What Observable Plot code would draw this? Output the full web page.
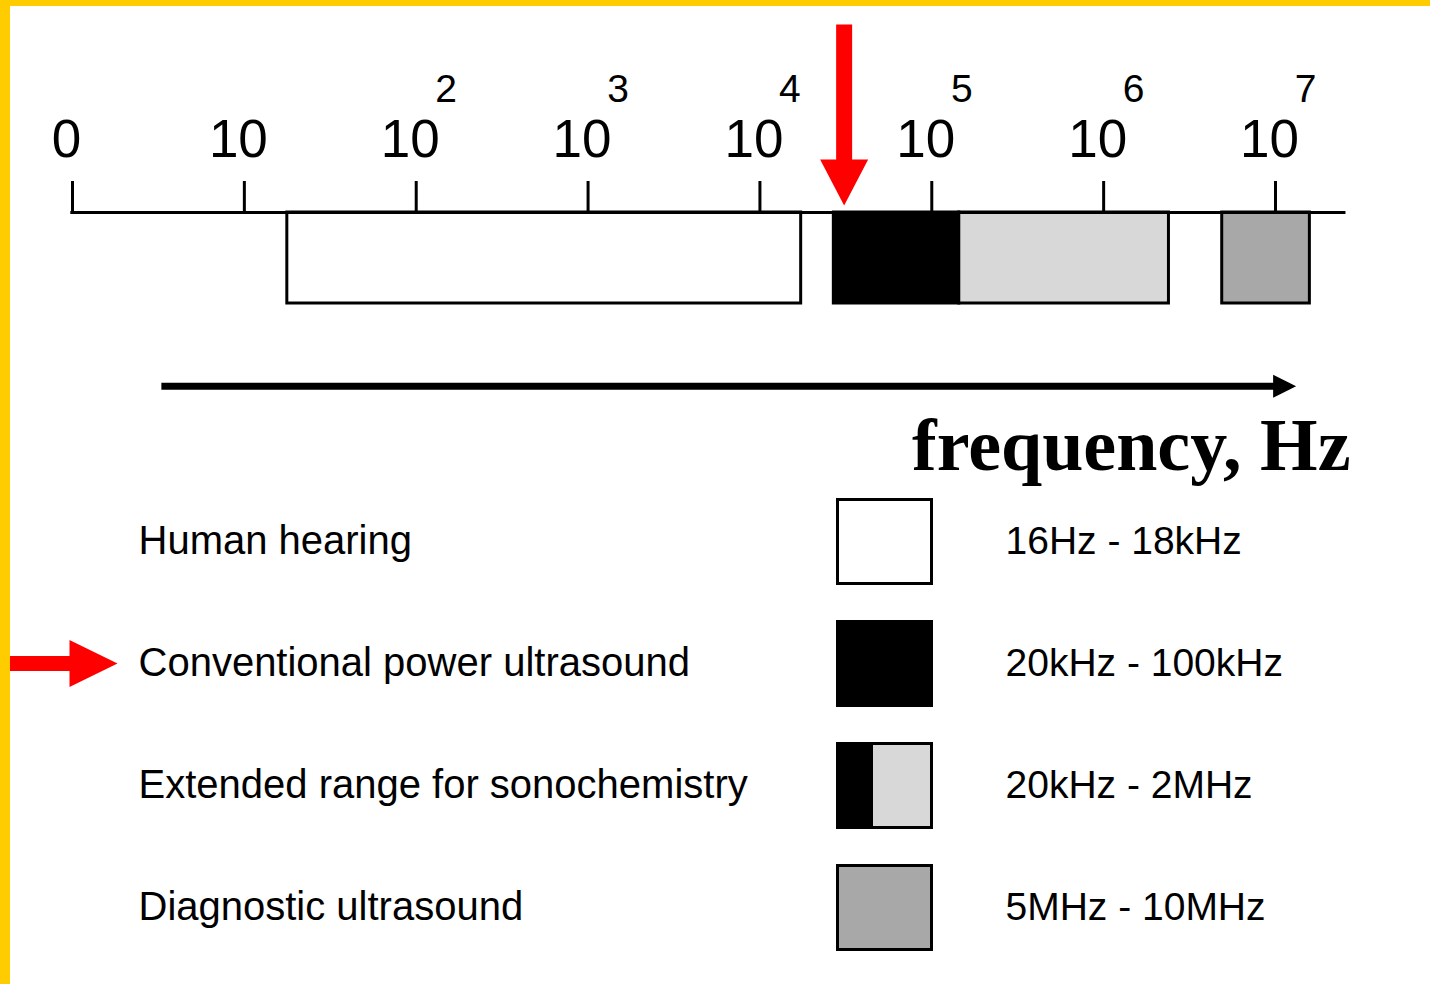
<!DOCTYPE html>
<html><head><meta charset="utf-8">
<script src="https://cdn.jsdelivr.net/npm/d3@7"></script>
<script src="https://cdn.jsdelivr.net/npm/@observablehq/plot@0.6"></script>
<style>
html,body{margin:0;padding:0;background:#fff;}
#page{position:relative;width:1430px;height:984px;overflow:hidden;background:#fff;}
#page svg{display:block;}
.border-top{position:absolute;left:0;top:0;width:1430px;height:6px;background:#FFCC00;}
.border-left{position:absolute;left:0;top:0;width:10px;height:984px;background:#FFCC00;}
</style></head>
<body><div id="page"><div id="top"></div><div id="legend"></div><div class="border-top"></div><div class="border-left"></div></div>
<script>
// ---- data (frequency positions in decades: value v means 10^v Hz; "0" tick at v = 0) ----
const decades = [0, 1, 2, 3, 4, 5, 6, 7];
const tickBase = ["0", "10", "10", "10", "10", "10", "10", "10"];
const tickExp = ["", "", "2", "3", "4", "5", "6", "7"];

const bandKinds = ["hearing", "conventional", "extended", "diagnostic"];
const bandFrom = [1.25, 4.43, 5.16, 6.69];
const bandTo = [4.24, 5.16, 6.38, 7.20];

const legendLabels = ["Human hearing", "Conventional power ultrasound", "Extended range for sonochemistry", "Diagnostic ultrasound"];
const legendRanges = ["16Hz - 18kHz", "20kHz - 100kHz", "20kHz - 2MHz", "5MHz - 10MHz"];

const markerDecade = 4.49;                 // red arrow on the scale
const highlighted = "Conventional power ultrasound";
const axisSpan = [-0.01, 7.41];            // extent of the scale line
const freqArrowSpan = [0.52, 7.12];        // frequency arrow (start, tip)
const axisTitle = "frequency, Hz";

// ---- tables built from the arrays ----
const bands = bandKinds.map((k, i) => ({kind: k, from: bandFrom[i], to: bandTo[i]}));
const ticks = decades.map((v, i) => ({v, base: tickBase[i], exp: tickExp[i]}));
const legendRows = legendLabels.map((l, i) => ({label: l, range: legendRanges[i], kind: bandKinds[i]}));

// ---- styles / layout ----
const colorScale = {type: "ordinal", domain: bandKinds, range: ["white", "black", "#d8d8d8", "#a8a8a8"]};
const sans = "'Liberation Sans', Arial, Helvetica, sans-serif";
const freqArrowY = 1.91;

function arrowSymbol(length, shaftWidth, headLength, headWidth) {
  return {draw(ctx) {
    const s = shaftWidth / 2, h = headWidth / 2;
    ctx.moveTo(0, 0);
    ctx.lineTo(-headLength, -h);
    if (s > 0 && length > headLength) {
      ctx.lineTo(-headLength, -s);
      ctx.lineTo(-length, -s);
      ctx.lineTo(-length, s);
      ctx.lineTo(-headLength, s);
    }
    ctx.lineTo(-headLength, h);
    ctx.closePath();
  }};
}
function boxSymbol(x0, x1, halfH) {
  return {draw(ctx) {
    ctx.moveTo(x0, -halfH); ctx.lineTo(x1, -halfH); ctx.lineTo(x1, halfH); ctx.lineTo(x0, halfH); ctx.closePath();
  }};
}

const topPlot = Plot.plot({
  width: 1430, height: 480,
  marginTop: 212, marginBottom: 177, marginLeft: 0, marginRight: 0,
  x: {type: "linear", domain: [0, 7], range: [72, 1275], axis: null},
  y: {domain: [0, 1], reverse: true, axis: null},
  color: colorScale,
  style: {fontFamily: sans, color: "black", background: "transparent", overflow: "visible"},
  marks: [
    Plot.rect(bands, {x1: "from", x2: "to", y1: () => 0, y2: () => 1, fill: "kind", stroke: "black", strokeWidth: 3}),
    Plot.ruleY([0], {x1: () => axisSpan[0], x2: () => axisSpan[1], stroke: "black", strokeWidth: 3}),
    Plot.axisX(decades, {anchor: "top", tickSize: 32, strokeWidth: 3, stroke: "black", tickFormat: () => "", label: null}),
    Plot.text(ticks, {x: "v", text: "base", frameAnchor: "top", lineAnchor: "bottom", dy: -56, dx: -6, fontSize: 53, fill: "black"}),
    Plot.text(ticks, {x: "v", text: "exp", frameAnchor: "top", lineAnchor: "bottom", dy: -111, dx: 30, fontSize: 39, fill: "black"}),
    Plot.dot([markerDecade], {x: d => d, y: () => 0, dy: -7, rotate: 90, symbol: arrowSymbol(181, 16, 46, 48), fill: "red", stroke: "none"}),
    Plot.ruleY([freqArrowY], {x1: () => freqArrowSpan[0], x2: () => freqArrowSpan[1] - 0.12, stroke: "black", strokeWidth: 7}),
    Plot.dot([freqArrowSpan[1]], {x: d => d, y: () => freqArrowY, symbol: arrowSymbol(23, 0, 23, 23), fill: "black", stroke: "none"}),
    Plot.text([axisTitle], {text: d => d, frameAnchor: "bottom-right", dx: -80, dy: 166, lineAnchor: "bottom", textAnchor: "end",
      fontSize: 74, fontWeight: "bold", fontFamily: "'Liberation Serif', 'Times New Roman', Times, serif", fill: "black"})
  ]
});

const legendPlot = Plot.plot({
  width: 1430, height: 504, margin: 0,
  y: {type: "point", domain: legendLabels, range: [60, 428], padding: 0, axis: null},
  color: colorScale,
  style: {fontFamily: sans, color: "black", background: "transparent", overflow: "visible"},
  marks: [
    Plot.dot(legendRows, {y: "label", frameAnchor: "left", dx: 884, symbol: boxSymbol(-47, 47, 42), fill: "kind", stroke: "black", strokeWidth: 3}),
    Plot.dot(legendRows.filter(d => d.kind === "extended"), {y: "label", frameAnchor: "left", dx: 884, symbol: boxSymbol(-47, -13, 42), fill: () => "conventional", stroke: "black", strokeWidth: 3}),
    Plot.text(legendRows, {y: "label", text: "label", frameAnchor: "left", dx: 138, textAnchor: "start", fontSize: 40, fill: "black"}),
    Plot.text(legendRows, {y: "label", text: "range", frameAnchor: "left", dx: 1005, textAnchor: "start", fontSize: 39, fill: "black"}),
    Plot.dot(legendRows.filter(d => d.label === highlighted), {y: "label", frameAnchor: "left", dx: 117, symbol: arrowSymbol(117, 15, 48, 47), fill: "red", stroke: "none"})
  ]
});

document.getElementById("top").append(topPlot);
document.getElementById("legend").append(legendPlot);
</script></body></html>
